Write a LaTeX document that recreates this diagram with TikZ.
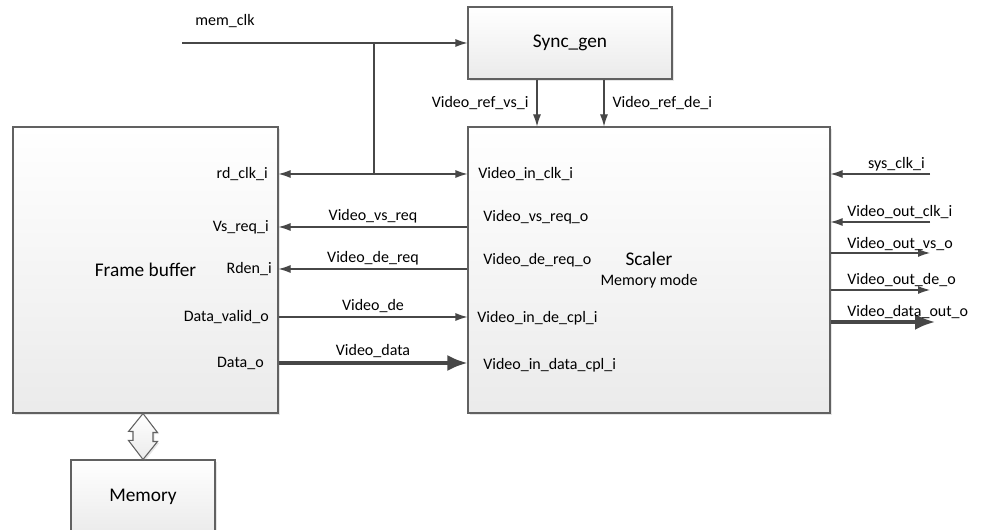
\documentclass[tikz,border=0pt]{standalone}
\usepackage{fontspec}
\setmainfont{Carlito}
\usetikzlibrary{arrows.meta,shadows}
\begin{document}
\begin{tikzpicture}[x=0.75pt,y=-0.75pt]
\tikzset{>={Latex[length=9pt,width=6pt]}}
\tikzset{blk/.style={draw=black!62, line width=0.8pt, top color=white, bottom color=black!8,
  drop shadow={shadow xshift=1.2pt, shadow yshift=-1.2pt, opacity=0.2}, inner sep=0pt},
  sig/.style={draw=black!72, line width=0.8pt},
  bus/.style={draw=black!72, line width=2.4pt, -{Latex[length=15pt,width=12pt]}},
  pin/.style={font=\fontsize{12}{14}\selectfont, inner sep=0pt},
  big/.style={font=\fontsize{14.5}{17}\selectfont}}
\useasboundingbox (0,0) rectangle (1006,530);
% blocks
\node[blk, big, minimum width=198.75pt, minimum height=214.5pt] (fb) at (145.5,270) {Frame buffer};
\node[blk, big, minimum width=271.5pt, minimum height=214.5pt, align=center] (sc) at (649,270) {Scaler\\[-2pt]{\fontsize{12}{14}\selectfont Memory mode}};
\node[blk, big, minimum width=153pt, minimum height=54pt] (sg) at (570,43) {Sync\_gen};
\node[blk, big, minimum width=108pt, minimum height=55.5pt] (mem) at (143,497) {Memory};
% memory bus
\draw[blk] (mem.north |- fb.south) -- ++(14.5,19) -- ++(-4.5,0) -- ++(0,9) -- ++(4.5,0) -- (mem.north)
  -- ++(-14.5,-19) -- ++(4.5,0) -- ++(0,-9) -- ++(-4.5,0) -- cycle;
% frame buffer pins
\node[pin, anchor=east] (rdclk) at (268,174) {rd\_clk\_i};
\node[pin, anchor=east] (vsreq) at (269,227) {Vs\_req\_i};
\node[pin, anchor=east] (rden) at (272,269) {Rden\_i};
\node[pin, anchor=east] (dvalid) at (269,317) {Data\_valid\_o};
\node[pin, anchor=east] (dout) at (264,363) {Data\_o};
% scaler pins
\node[pin, anchor=west] (vinclk) at (478,174) {Video\_in\_clk\_i};
\node[pin, anchor=west] (vsreqo) at (483,217) {Video\_vs\_req\_o};
\node[pin, anchor=west] (dereqo) at (483,260) {Video\_de\_req\_o};
\node[pin, anchor=west] (decpl) at (477,318) {Video\_in\_de\_cpl\_i};
\node[pin, anchor=west] (datacpl) at (483,365) {Video\_in\_data\_cpl\_i};
% clock
\coordinate (clkin) at (182,43);
\coordinate (clkj) at (374,43);
\node[pin] (memclk) at (225,21) {mem\_clk};
\draw[sig,->] (clkin) -- (sg.west);
\draw[sig] (clkj) -- (clkj |- rdclk);
\draw[sig,->] (clkj |- rdclk) -- (fb.east |- rdclk);
\draw[sig,->] (clkj |- rdclk) -- (sc.west |- rdclk);
% frame buffer to scaler
\draw[sig,<-] (fb.east |- vsreq) -- node[pin, above=2.5pt] {Video\_vs\_req} (sc.west |- vsreq);
\draw[sig,<-] (fb.east |- rden) -- node[pin, above=2.5pt] {Video\_de\_req} (sc.west |- rden);
\draw[sig,->] (fb.east |- dvalid) -- node[pin, above=2.5pt] {Video\_de} (sc.west |- dvalid);
\draw[bus] (fb.east |- dout) -- node[pin, above=2.5pt] {Video\_data} (sc.west |- dout);
% sync_gen to scaler
\coordinate (vsx) at (537,0);
\coordinate (dex) at (604,0);
\draw[sig,->] (sg.south -| vsx) -- node[pin, left=6pt] {Video\_ref\_vs\_i} (sc.north -| vsx);
\draw[sig,->] (sg.south -| dex) -- node[pin, right=6pt] {Video\_ref\_de\_i} (sc.north -| dex);
% scaler outputs
\coordinate (sysclk) at (930,174);
\coordinate (oclk) at (930,222);
\coordinate (ovs) at (930,253);
\coordinate (ode) at (930,290);
\coordinate (odata) at (935,322);
\draw[sig,->] (sysclk) -- (sc.east |- sysclk);
\node[pin, anchor=south east] (lsys) at (925,171) {sys\_clk\_i};
\draw[sig,->] (oclk) -- (sc.east |- oclk);
\node[pin, anchor=south west] (loclk) at (847,219) {Video\_out\_clk\_i};
\draw[sig,->] (sc.east |- ovs) -- (ovs);
\node[pin, anchor=south west] (lovs) at (847,251) {Video\_out\_vs\_o};
\draw[sig,->] (sc.east |- ode) -- (ode);
\node[pin, anchor=south west] (lode) at (847,287) {Video\_out\_de\_o};
\draw[bus] (sc.east |- odata) -- (odata);
\node[pin, anchor=south west] (lodata) at (847,319) {Video\_data\_out\_o};
\end{tikzpicture}
\end{document}
